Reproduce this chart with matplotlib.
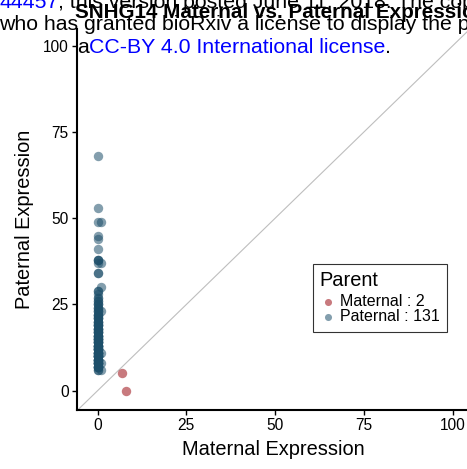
import matplotlib
matplotlib.use("Agg")
import matplotlib.pyplot as plt

# figure size in pixels
W = 467
H = 469

plt.rcParams['font.family'] = ['Liberation Sans', 'DejaVu Sans']

TITLE = "SNHG14 Maternal vs. Paternal Expression"
X_LABEL = "Maternal Expression"
Y_LABEL = "Paternal Expression"
TICKS = [0, 25, 50, 75, 100]

# maternal-biased points (maternal, paternal)
mat_x = [7, 8]
mat_y = [5, 0]

# paternal-biased points (rows of x and y line up)
pat_x = [0, 0, 0, 0, 0, 0, 0, 0, 0, 0, 0, 0,
         0, 0, 0, 0, 0, 0, 0, 0, 0, 0, 0, 0, 0, 0, 0, 0,
         0, 0, 0, 0, 0, 0, 0, 0, 0, 0, 0, 0,
         0, 0, 0, 0, 0, 0, 0, 0, 0, 0, 0, 0, 0, 0, 0,
         0, 0, 0, 0, 0, 0, 0, 0, 0, 0, 0, 0,
         0, 0, 0, 0, 0, 0, 0, 0, 0, 0, 0, 0, 0,
         0, 0, 0, 0, 0, 0, 0, 0, 0, 0, 0, 0, 0, 0,
         0, 0, 0, 0, 0, 0, 0, 0, 0, 0, 0, 0, 0, 0, 0,
         0, 0, 0, 0, 0, 0, 0, 0, 0, 0, 0, 0, 0, 0, 0,
         1, 1, 1, 1, 1, 1, 1]
pat_y = [68, 53, 49, 45, 44, 41, 38, 38, 38, 37, 34, 34,
         29, 29, 28, 27, 27, 26, 26, 25, 25, 25, 24, 24, 24, 23, 23, 23,
         22, 22, 22, 22, 21, 21, 21, 21, 20, 20, 20, 20,
         19, 19, 19, 19, 19, 18, 18, 18, 18, 18, 17, 17, 17, 17, 17,
         16, 16, 16, 16, 16, 16, 15, 15, 15, 15, 15, 15,
         14, 14, 14, 14, 14, 14, 13, 13, 13, 13, 13, 13, 13,
         12, 12, 12, 12, 12, 12, 12, 11, 11, 11, 11, 11, 11, 11,
         10, 10, 10, 10, 10, 10, 10, 10, 9, 9, 9, 9, 9, 9, 9,
         8, 8, 8, 8, 8, 8, 8, 7, 7, 7, 7, 7, 7, 6, 6,
         49, 37, 30, 23, 11, 8, 6]

MAT_COLOR = "#9c0d14"
PAT_COLOR = "#1d4f6a"

X_LIM = (-5.8, 105)
Y_LIM = (-5.6, 104.9)


def px_to_fig(x, y):
    """pixel coords (from top-left) -> figure fraction"""
    return x / W, 1 - y / H


def draw_parts(fig, x, y, parts, size):
    """draws text pieces one after the other on a line, each in its own colour"""
    renderer = fig.canvas.get_renderer()
    for s, c in parts:
        fx, fy = px_to_fig(x, y)
        t = fig.text(fx, fy, s, color=c, fontsize=size, ha='left', va='baseline', zorder=10)
        x += t.get_window_extent(renderer).width


def main():
    fig = plt.figure(figsize=(W / 100, H / 100), dpi=100)
    # panel runs a bit past the right edge of the picture (it was cropped)
    left, top = px_to_fig(77, 29)
    right, bottom = px_to_fig(470.3, 410)
    ax = fig.add_axes([left, bottom, right - left, top - bottom])

    ax.axline((0, 0), slope=1, color="#bebebe", lw=0.8, zorder=1)
    ax.scatter(mat_x, mat_y, s=46, color=MAT_COLOR, alpha=0.55, lw=0,
               label=f"Maternal : {len(mat_x)}", zorder=2)
    ax.scatter(pat_x, pat_y, s=46, color=PAT_COLOR, alpha=0.55, lw=0,
               label=f"Paternal : {len(pat_x)}", zorder=2)

    ax.set_xlim(*X_LIM)
    ax.set_ylim(*Y_LIM)
    ax.set_xticks(TICKS)
    ax.set_yticks(TICKS)
    for side in ["top", "right"]:
        ax.spines[side].set_visible(False)
    for side in ["left", "bottom"]:
        ax.spines[side].set_linewidth(1.5)
        ax.spines[side].set_color("black")
    ax.tick_params(length=3.6, width=1, color="black", labelsize=11.2, pad=2.5)
    ax.set_xlabel(X_LABEL, fontsize=14.4, labelpad=5)
    ax.set_ylabel(Y_LABEL, fontsize=14.4, labelpad=6)

    leg = ax.legend(title="Parent", loc="upper left",
                    bbox_to_anchor=px_to_fig(312.5, 264), bbox_transform=fig.transFigure,
                    fancybox=False, edgecolor="black", fontsize=11.5, title_fontsize=14.4,
                    alignment="left", handletextpad=0.2, borderpad=0.45,
                    labelspacing=0.0, handlelength=1.05, markerscale=0.75, borderaxespad=0)
    leg.get_frame().set_linewidth(0.8)
    # a little more room between the legend title and its entries
    leg._legend_box.sep = 3

    # plot title, cut off at the right edge like the page it came from
    tx, ty = px_to_fig(75, 18)
    fig.text(tx, ty, TITLE, fontsize=14.9, weight="bold", ha="left", va="baseline")

    # bioRxiv header text laid over the figure
    draw_parts(fig, -1, 7.5, [("44457", "blue"),
                              ("; this version posted June 11, 2018. The copyright holder", "black")], 15.3)
    draw_parts(fig, -1, 30.5, [("who has granted bioRxiv a license to display the preprint", "black")], 15.3)
    draw_parts(fig, 77, 53, [("a", "black"), ("CC-BY 4.0 International license", "blue"),
                             (".", "black")], 15.3)

    fig.savefig("out.png", dpi=100)


if __name__ == "__main__":
    main()
